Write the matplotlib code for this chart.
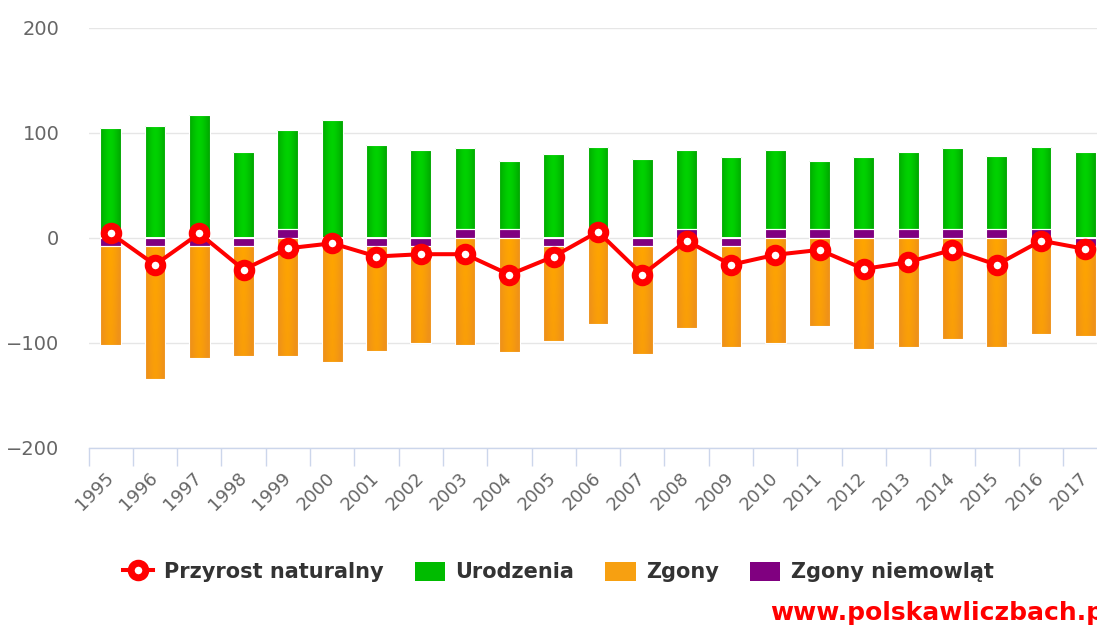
import matplotlib
matplotlib.use("Agg")
import matplotlib.pyplot as plt
from matplotlib.lines import Line2D
from matplotlib.patches import Patch
from matplotlib.colors import to_rgb
import numpy as np

years = ["1995", "1996", "1997", "1998", "1999", "2000", "2001", "2002", "2003",
         "2004", "2005", "2006", "2007", "2008", "2009", "2010", "2011", "2012",
         "2013", "2014", "2015", "2016", "2017"]
urodzenia = [104.4, 106.3, 117.0, 81.5, 94.5, 111.7, 88.3, 83.4, 76.8, 64.4, 79.6,
             78.5, 74.3, 75.4, 76.2, 75.4, 64.4, 68.2, 73.5, 76.8, 70.0, 78.5, 81.5]
zgony = [-94.3, -126.7, -106.9, -105.3, -113.3, -110.7, -99.9, -92.8, -102.6, -109.5,
         -90.9, -82.8, -103.4, -86.6, -96.5, -100.8, -84.7, -106.0, -104.5, -97.0,
         -104.5, -91.6, -85.5]
zgony_niemowlat = [-8, -8, -8, -8, 8, -8, -8, -8, 8, 8, -8, 8, -8, 8, -8, 8, 8, 8,
                   8, 8, 8, 8, -8]
przyrost = [4.0, -26.0, 3.9, -30.6, -10.3, -5.5, -18.1, -15.9, -15.9, -35.4, -18.1,
            5.5, -35.4, -3.0, -26.0, -16.5, -11.8, -30.0, -23.4, -11.8, -26.0, -3.0,
            -10.9]

GREEN = "#00bb00"
GREEN_C, GREEN_E = "#00d200", "#00a600"
ORANGE = "#f7a011"
ORANGE_C, ORANGE_E = "#ffa500", "#ef9219"
PURPLE = "#800080"
RED = "#ff0000"

W, H = 1097, 625
fig = plt.figure(figsize=(W / 100, H / 100), dpi=100)
left_px, right_px = 88.5, 1107.5
top_px, bot_px = 27.5, 447.5
ax = fig.add_axes([left_px / W, 1 - bot_px / H, (right_px - left_px) / W,
                   (bot_px - top_px) / H])


def gradient_fill(bars, c_center, c_edge, vertical_shade=0.0):
    cc = np.array(to_rgb(c_center))
    ce = np.array(to_rgb(c_edge))
    nx, ny = 40, 40
    u = np.linspace(-1, 1, nx)
    v = np.linspace(0, 1, ny)[:, None]
    t = np.abs(u)[None, :] ** 1.5
    t = np.clip(t + vertical_shade * v, 0, 1)
    img = cc[None, None, :] * (1 - t[..., None]) + ce[None, None, :] * t[..., None]
    for p in bars.patches:
        bb = p.get_bbox()
        im = ax.imshow(img, extent=[bb.x0, bb.x1, bb.y1, bb.y0], origin="upper",
                       aspect="auto", interpolation="bilinear", zorder=2)
        im.set_clip_path(p)
        p.set_facecolor("none")


x = np.arange(len(years))
niem = np.array(zgony_niemowlat, dtype=float)
pos_base = np.where(niem > 0, niem, 0)
neg_base = np.where(niem < 0, niem, 0)
bw = 0.47
ax.bar(x, niem, width=bw, color=PURPLE, edgecolor="white", linewidth=0.8, zorder=3)
gb = ax.bar(x, urodzenia, bottom=pos_base, width=bw, color=GREEN, edgecolor="white",
            linewidth=0.8, zorder=3)
ob = ax.bar(x, zgony, bottom=neg_base, width=bw, color=ORANGE, edgecolor="white",
            linewidth=0.8, zorder=3)
gradient_fill(gb, GREEN_C, GREEN_E)
gradient_fill(ob, ORANGE_C, ORANGE_E, vertical_shade=0.35)

ax.plot(x, przyrost, color=RED, linewidth=2.9, marker="o", markersize=10.5,
        markeredgewidth=5, markerfacecolor="white", markeredgecolor=RED, zorder=5,
        clip_on=False)

ax.set_xlim(-0.5, len(years) - 0.5)
ax.set_ylim(-200, 200)
ax.set_yticks([-200, -100, 0, 100, 200])
ax.set_yticklabels(["\u2212200", "\u2212100", "0", "100", "200"])
ax.yaxis.grid(True, color="#e6e6e6", linewidth=1, zorder=0)
ax.set_axisbelow(True)
for s in ["left", "right", "top"]:
    ax.spines[s].set_visible(False)
ax.spines["bottom"].set_color("#ccd6eb")
ax.spines["bottom"].set_linewidth(1)
ax.spines["bottom"].set_zorder(1)
ax.tick_params(axis="y", length=0, pad=21, labelsize=14, labelcolor="#666666")

ax.set_xticks(x)
ax.set_xticklabels(years, rotation=45, ha="right", rotation_mode="anchor", va="center")
ax.set_xticks(np.arange(-0.5, len(years)), minor=True)
ax.tick_params(axis="x", which="major", length=0, pad=20, labelsize=13,
               labelcolor="#666666")
ax.tick_params(axis="x", which="minor", length=13, color="#ccd6eb", width=1)

handles = [
    Line2D([0], [0], color=RED, linewidth=2.9, marker="o", markersize=10.5,
           markeredgewidth=5, markerfacecolor="white", markeredgecolor=RED),
    Patch(facecolor=GREEN, edgecolor="none"),
    Patch(facecolor=ORANGE, edgecolor="none"),
    Patch(facecolor=PURPLE, edgecolor="none"),
]
labels = ["Przyrost naturalny", "Urodzenia", "Zgony", "Zgony niemowl\u0105t"]
fig.legend(handles, labels, loc="center", bbox_to_anchor=(558.5 / W, 1 - 572 / H),
           ncol=4, frameon=False, prop={"weight": "bold", "size": 15},
           labelcolor="#333333", handlelength=1.45, handleheight=1.05,
           handletextpad=0.5, columnspacing=1.5, borderaxespad=0)

fig.text(770 / W, 1 - 620 / H, "www.polskawliczbach.pl", color="#ff0000",
         fontsize=18, fontweight="bold", ha="left", va="baseline")

fig.savefig("out.png", dpi=100)
